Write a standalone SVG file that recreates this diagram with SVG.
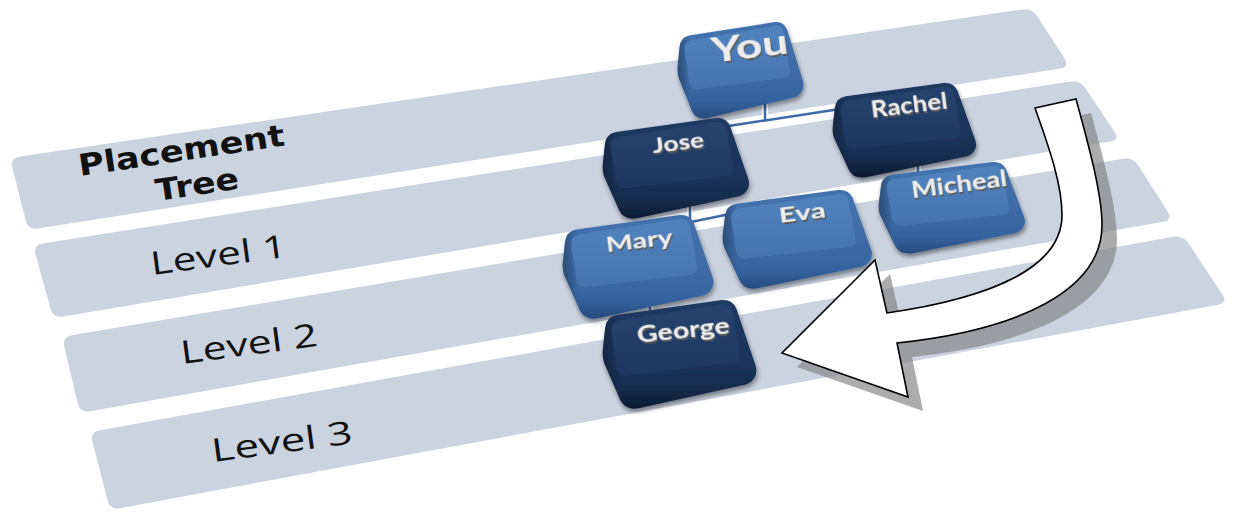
<svg xmlns="http://www.w3.org/2000/svg" xmlns:xlink="http://www.w3.org/1999/xlink" width="1239" height="514" viewBox="0 0 1239 514">
<defs>
<style>
.band{fill:#CBD3E1}
.lbl{font-family:"Open Sans","DejaVu Sans",sans-serif;font-size:32px;fill:#111111}
.lblb{font-family:"DejaVu Sans","Open Sans",sans-serif;font-size:30px;font-weight:bold;fill:#111111}
.kt{font-family:Lato,"Open Sans",sans-serif;font-weight:bold;fill:#EDEDED;text-anchor:middle;filter:url(#emb)}
.cw{fill:none;stroke:#FFFFFF;stroke-width:6}
.cb{fill:none;stroke:#3C6BA6;stroke-width:2.5}
</style>
<linearGradient id="lo" x1="0" y1="0" x2="0" y2="1">
<stop offset="0" stop-color="#4373AF"/><stop offset="0.55" stop-color="#3D6BA6"/><stop offset="0.8" stop-color="#3564A0"/><stop offset="1" stop-color="#274B7E"/>
</linearGradient>
<linearGradient id="lf" x1="0" y1="0" x2="0" y2="1">
<stop offset="0" stop-color="#5083BE"/><stop offset="1" stop-color="#4574AF"/>
</linearGradient>
<linearGradient id="do" x1="0" y1="0" x2="0" y2="1">
<stop offset="0" stop-color="#1E3A62"/><stop offset="0.55" stop-color="#1B345A"/><stop offset="0.8" stop-color="#162C4D"/><stop offset="1" stop-color="#0D1B31"/>
</linearGradient>
<linearGradient id="df" x1="0" y1="0" x2="0" y2="1">
<stop offset="0" stop-color="#25436E"/><stop offset="1" stop-color="#1D3860"/>
</linearGradient>
<linearGradient id="side" x1="0" y1="0" x2="1" y2="0">
<stop offset="0" stop-color="#000000" stop-opacity="0.3"/><stop offset="0.1" stop-color="#000000" stop-opacity="0"/>
</linearGradient>
<filter id="ksh" x="-10%" y="-10%" width="125%" height="135%">
<feGaussianBlur in="SourceAlpha" stdDeviation="2.5"/>
<feOffset dx="1" dy="3" result="b"/>
<feComponentTransfer><feFuncA type="linear" slope="0.45"/></feComponentTransfer>
<feMerge><feMergeNode/><feMergeNode in="SourceGraphic"/></feMerge>
</filter>
<filter id="emb" x="-10%" y="-20%" width="130%" height="150%">
<feOffset in="SourceAlpha" dx="1.2" dy="1.8" result="o"/>
<feFlood flood-color="#5A5A5A"/>
<feComposite in2="o" operator="in" result="s"/>
<feMerge><feMergeNode in="s"/><feMergeNode in="SourceGraphic"/></feMerge>
</filter>
<path id="kOuter" d="M 14,14 L 114,0 Q 124,-1 128,8 L 146,60 Q 150,72 138,78 L 36,100 Q 22,103 17,92 L 2,58 Q 0,52 1,44 L 3,26 Q 4,16 14,14 Z"/>
<path id="kFace" d="M 16,19 L 114,4 Q 122,3 124,10 L 131,50 Q 132,57 125,58 L 24,70 Q 16,71 14,63 L 9,30 Q 8,21 16,19 Z"/>
</defs>

<g id="bands">
<path class="band" d="M 19.9,156.5 L 1022.1,9.45 Q 1032,8 1037.4,16.4 L 1064.6,58.6 Q 1070,67 1060.1,68.5 L 37.9,228.5 Q 28,230 25.6,220.3 L 12.4,167.7 Q 10,158 19.9,156.5 Z"/>
<path class="band" d="M 42.9,243.4 L 1070.1,81.6 Q 1080,80 1085.5,88.3 L 1114.5,131.7 Q 1120,140 1110.1,141.6 L 62.9,316.4 Q 53,318 50.4,308.4 L 35.6,254.6 Q 33,245 42.9,243.4 Z"/>
<path class="band" d="M 71.9,335.3 L 1123.1,158.7 Q 1133,157 1138.4,165.4 L 1167.6,211.6 Q 1173,220 1163.2,221.7 L 89.8,411.3 Q 80,413 77.7,403.3 L 64.3,346.7 Q 62,337 71.9,335.3 Z"/>
<path class="band" d="M 99.8,430.2 L 1173.2,236.8 Q 1183,235 1188.5,243.3 L 1222.5,294.7 Q 1228,303 1218.2,304.8 L 119.8,508.2 Q 110,510 107.5,500.3 L 92.5,441.7 Q 90,432 99.8,430.2 Z"/>
</g>

<g id="band-labels">
<text class="lblb" x="80" y="176" textLength="208" lengthAdjust="spacingAndGlyphs" transform="rotate(-8.5 80 176)">Placement</text>
<text class="lblb" x="157" y="201" textLength="84" lengthAdjust="spacingAndGlyphs" transform="rotate(-8.5 157 201)">Tree</text>
<text class="lbl" x="152" y="275" textLength="137" lengthAdjust="spacingAndGlyphs" transform="rotate(-7.6 152 275)">Level 1</text>
<text class="lbl" x="182" y="364" textLength="138" lengthAdjust="spacingAndGlyphs" transform="rotate(-7.6 182 364)">Level 2</text>
<text class="lbl" x="213" y="462" textLength="142" lengthAdjust="spacingAndGlyphs" transform="rotate(-7.6 213 462)">Level 3</text>
</g>

<g id="connectors">
<path class="cw" d="M 765,100 L 765,121 M 722,127 L 840,109 M 690,205 L 690,222 M 686,223 L 730,214 M 918,163 L 918,180 M 650,300 L 650,320"/>
<path class="cb" d="M 765,100 L 765,121 M 722,127 L 840,109 M 690,205 L 690,222 M 686,223 L 730,214 M 918,163 L 918,180 M 650,300 L 650,320"/>
</g>

<g id="node-you">
<g transform="translate(677,22) scale(0.86,0.96)">
<use xlink:href="#kOuter" href="#kOuter" fill="url(#lo)" filter="url(#ksh)"/>
<use xlink:href="#kOuter" href="#kOuter" fill="url(#side)"/>
<use xlink:href="#kFace" href="#kFace" fill="url(#lf)"/>
</g>
<text class="kt" x="751" y="58" font-size="34" textLength="77" lengthAdjust="spacingAndGlyphs" transform="rotate(-7 751 58)">You</text>
</g>

<g id="node-rachel">
<g transform="translate(832,83) scale(0.98,0.94)">
<use xlink:href="#kOuter" href="#kOuter" fill="url(#do)" filter="url(#ksh)"/>
<use xlink:href="#kOuter" href="#kOuter" fill="url(#side)"/>
<use xlink:href="#kFace" href="#kFace" fill="url(#df)"/>
</g>
<text class="kt" x="910" y="113" font-size="22" textLength="77" lengthAdjust="spacingAndGlyphs" transform="rotate(-7 910 113)">Rachel</text>
</g>

<g id="node-jose">
<g transform="translate(602,118)">
<use xlink:href="#kOuter" href="#kOuter" fill="url(#do)" filter="url(#ksh)"/>
<use xlink:href="#kOuter" href="#kOuter" fill="url(#side)"/>
<use xlink:href="#kFace" href="#kFace" fill="url(#df)"/>
</g>
<text class="kt" x="679" y="150" font-size="21" textLength="52" lengthAdjust="spacingAndGlyphs" transform="rotate(-7 679 150)">Jose</text>
</g>

<g id="node-micheal">
<g transform="translate(878,162) scale(1.0,0.91)">
<use xlink:href="#kOuter" href="#kOuter" fill="url(#lo)" filter="url(#ksh)"/>
<use xlink:href="#kOuter" href="#kOuter" fill="url(#side)"/>
<use xlink:href="#kFace" href="#kFace" fill="url(#lf)"/>
</g>
<text class="kt" x="960" y="192" font-size="22" textLength="96" lengthAdjust="spacingAndGlyphs" transform="rotate(-7.5 960 192)">Micheal</text>
</g>

<g id="node-eva">
<g transform="translate(722,190) scale(1.02,0.98)">
<use xlink:href="#kOuter" href="#kOuter" fill="url(#lo)" filter="url(#ksh)"/>
<use xlink:href="#kOuter" href="#kOuter" fill="url(#side)"/>
<use xlink:href="#kFace" href="#kFace" fill="url(#lf)"/>
</g>
<text class="kt" x="803" y="220" font-size="21" textLength="47" lengthAdjust="spacingAndGlyphs" transform="rotate(-7 803 220)">Eva</text>
</g>

<g id="node-mary">
<g transform="translate(562,215) scale(1.03,1.03)">
<use xlink:href="#kOuter" href="#kOuter" fill="url(#lo)" filter="url(#ksh)"/>
<use xlink:href="#kOuter" href="#kOuter" fill="url(#side)"/>
<use xlink:href="#kFace" href="#kFace" fill="url(#lf)"/>
</g>
<text class="kt" x="640" y="248" font-size="21" textLength="67" lengthAdjust="spacingAndGlyphs" transform="rotate(-7 640 248)">Mary</text>
</g>

<g id="node-george">
<g transform="translate(602,300) scale(1.05,1.08)">
<use xlink:href="#kOuter" href="#kOuter" fill="url(#do)" filter="url(#ksh)"/>
<use xlink:href="#kOuter" href="#kOuter" fill="url(#side)"/>
<use xlink:href="#kFace" href="#kFace" fill="url(#df)"/>
</g>
<text class="kt" x="684" y="338" font-size="23" textLength="93" lengthAdjust="spacingAndGlyphs" transform="rotate(-6 684 338)">George</text>
</g>

<g id="arrow">
<path transform="translate(15,14)" fill="#7F7F7F" fill-opacity="0.65" d="M 1035,108 L 1076,99 C 1090,150 1102,195 1102,225 C 1102,290 1020,330 897,343 L 908,397 L 782,353 L 875,260 L 887,313 C 990,298 1062,268 1062,215 C 1062,185 1050,150 1035,108 Z"/>
<path fill="#FFFFFF" stroke="#000000" stroke-width="1.6" stroke-linejoin="miter" d="M 1035,108 L 1076,99 C 1090,150 1102,195 1102,225 C 1102,290 1020,330 897,343 L 908,397 L 782,353 L 875,260 L 887,313 C 990,298 1062,268 1062,215 C 1062,185 1050,150 1035,108 Z"/>
</g>
</svg>
